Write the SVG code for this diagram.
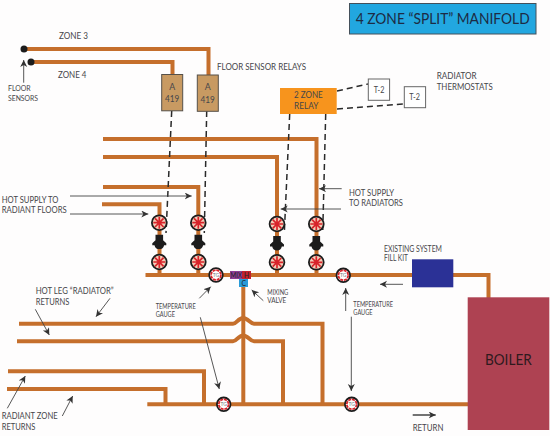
<svg xmlns="http://www.w3.org/2000/svg" width="550" height="436" viewBox="0 0 550 436">
<style>
text{font-family:Lato,"Liberation Sans",sans-serif;fill:#46464a}
.l{font-size:8.8px}
.s{font-size:6.6px}
.f{font-size:7.6px}
.p{fill:none;stroke:#c56f2c;stroke-width:4}
.d{fill:none;stroke:#2a2a2a;stroke-width:1.5;stroke-dasharray:6 4}
.a{fill:none;stroke:#444;stroke-width:.9;marker-end:url(#ah)}
.rel{fill:#c89a62;stroke:#55504a;stroke-width:1}
.th{fill:#fff;stroke:#666;stroke-width:1}
</style>
<defs>
<marker id="ah" markerWidth="8" markerHeight="8" refX="7" refY="3.500" orient="auto" markerUnits="userSpaceOnUse"><path d="M0 0L7 3.500L0 7L2 3.500Z" fill="#333"/></marker>
<g id="valve"><circle r="7.400" fill="#f4cdb8" stroke="#1c1c1c" stroke-width="1.800"/><path d="M-6 0H6M0-6V6M-4.300-4.300L4.300 4.300M-4.300 4.300L4.300-4.300" stroke="#d8232a" stroke-width="1.700"/></g>
<g id="pump"><path d="M-3.800-7H3.800V-1.500L7 1.500V3.500L4.800 3.500A4.900 4.900 0 0 1-4.800 3.500L-7 3.500V1.500L-3.800-1.500Z" fill="#1c1c1c"/></g>
<g id="tg"><circle r="6.800" fill="#fff" stroke="#1c1c1c" stroke-width="1.800"/><circle r="4.900" fill="#fff" stroke="#d8232a" stroke-width="1.800" stroke-dasharray="3 .8"/><text y="1.800" text-anchor="middle" style="font-size:5px;fill:#777">TG</text></g>
</defs>
<rect width="550" height="436" fill="#fefdfd"/>
<g id="connectors">
<path class="p" d="M24 49H208.500V75"/>
<path class="p" d="M31 62H172.500V75"/>
<path class="p" d="M103 139H316.500V275"/>
<path class="p" d="M103 157H277V275"/>
<path class="p" d="M103 187H198.300V275"/>
<path class="p" d="M102 204.300H159.500V275"/>
<path class="p" d="M145.500 275H412M453 275H488.500V298"/>
<path class="p" d="M243.300 287V404"/>
<path class="p" d="M19 323.700H233C237 323.700 238 318 243.300 318C248 318 250 323.700 254 323.700H322.500V404"/>
<path class="p" d="M17 341.300H233C237 341.300 238 335.500 243.300 335.500C248 335.500 250 341.300 254 341.300H283V404"/>
<path class="p" d="M8 371.300H204V404"/>
<path class="p" d="M7 389H165.500V404"/>
<path class="p" d="M147.300 404.300H468"/>
<path class="d" d="M171.700 111L166 233"/>
<path class="d" d="M206.700 111L204.300 233"/>
<path class="d" d="M289.700 114L284.300 233"/>
<path class="d" d="M325.700 114L322.700 233"/>
<path class="d" d="M337 91L368 84"/>
<path class="d" d="M337 109L404 104"/>
<path class="a" d="M23.700 82.700V60"/>
<path class="a" d="M70 196H191.700"/>
<path class="a" d="M70 214H148.300"/>
<path class="a" d="M341.700 188.700H319"/>
<path class="a" d="M341 209H280.700"/>
<path class="a" d="M403 284.300H380"/>
<path class="a" d="M35.300 309.300L49.300 335"/>
<path class="a" d="M110 298.300L96 316.700"/>
<path class="a" d="M7.300 408.300L25.300 376"/>
<path class="a" d="M62.300 416L72.700 396"/>
<path class="a" d="M199.300 298.300L210.700 286.700"/>
<path class="a" d="M263.300 300.700L251.700 290"/>
<path class="a" d="M200.300 317.300L219.300 389"/>
<path class="a" d="M345.700 311V288"/>
<path class="a" d="M351.300 316.700V391"/>
<path class="a" d="M412.700 415H435.700" style="stroke-width:1.500"/>
</g>
<g id="title"><rect x="349.500" y="3.500" width="186.500" height="30.500" fill="#22a7e0" stroke="#44505a"/><text x="355.700" y="24" textLength="174" lengthAdjust="spacingAndGlyphs" style="font-size:15.500px;fill:#1d2b44">4 ZONE “SPLIT” MANIFOLD</text></g>
<g id="floor-sensors"><circle cx="24" cy="49" r="3.500" fill="#1c1c1c"/><circle cx="31" cy="62" r="3.500" fill="#1c1c1c"/></g>
<g id="relay-a"><rect class="rel" x="161.700" y="74.500" width="21" height="36.300"/><text x="172.200" y="90" text-anchor="middle" class="l">A</text><text x="165" y="102" textLength="14.300" lengthAdjust="spacingAndGlyphs" class="l">419</text></g>
<g id="relay-b"><rect class="rel" x="197.300" y="75" width="21" height="36.300"/><text x="207.800" y="90" text-anchor="middle" class="l">A</text><text x="200.600" y="102.500" textLength="14.300" lengthAdjust="spacingAndGlyphs" class="l">419</text></g>
<g id="zone-relay"><rect x="280" y="88" width="56.700" height="26" fill="#f7941d"/><text x="294" y="98" textLength="28.700" lengthAdjust="spacingAndGlyphs" class="l">2 ZONE</text><text x="294" y="109" textLength="24.300" lengthAdjust="spacingAndGlyphs" class="l">RELAY</text></g>
<g id="t2-a"><rect class="th" x="368.300" y="79" width="21.300" height="21.300"/><text x="373.700" y="92.500" textLength="10.700" lengthAdjust="spacingAndGlyphs" class="l">T-2</text></g>
<g id="t2-b"><rect class="th" x="404.300" y="86.700" width="21.300" height="21"/><text x="409.300" y="99.500" textLength="10.700" lengthAdjust="spacingAndGlyphs" class="l">T-2</text></g>
<g id="v1"><use href="#valve" x="159.300" y="222.700"/><use href="#pump" x="159.300" y="241.700"/><use href="#valve" x="159.300" y="262"/></g>
<g id="v2"><use href="#valve" x="198.300" y="222.700"/><use href="#pump" x="198.300" y="241.700"/><use href="#valve" x="198.300" y="262"/></g>
<g id="v3"><use href="#valve" x="277" y="224"/><use href="#pump" x="277" y="243"/><use href="#valve" x="277" y="262.300"/></g>
<g id="v4"><use href="#valve" x="316.300" y="224"/><use href="#pump" x="316.300" y="243"/><use href="#valve" x="316.300" y="262.300"/></g>
<g id="tg1"><use href="#tg" x="216" y="275"/></g>
<g id="tg2"><use href="#tg" x="343.300" y="275.300"/></g>
<g id="tg3"><use href="#tg" x="223.700" y="404.300"/></g>
<g id="tg4"><use href="#tg" x="351.700" y="404.300"/></g>
<g id="mix-valve"><rect x="230" y="271" width="12" height="8" fill="#8e3f94"/><rect x="242" y="271" width="9" height="8" fill="#c4202f"/><rect x="239" y="279" width="9" height="8" fill="#2a9bd8"/><text x="230.500" y="278" textLength="11.500" lengthAdjust="spacingAndGlyphs" style="font-size:6.800px;fill:#222">MIX</text><text x="244" y="278" style="font-size:6.800px;fill:#222">H</text><text x="241.500" y="286" style="font-size:6.800px;fill:#222">C</text></g>
<g id="fill-kit"><rect x="412" y="259.300" width="41.300" height="28" fill="#2b3196"/></g>
<g id="boiler"><rect x="467.700" y="297.300" width="81.600" height="132.700" fill="#ae4252"/><text x="485" y="365" textLength="46.700" lengthAdjust="spacingAndGlyphs" style="font-size:15.500px;fill:#2e1a1e">BOILER</text></g>
<g id="labels">
<text class="l" x="59" y="38.700" textLength="29" lengthAdjust="spacingAndGlyphs">ZONE 3</text>
<text class="l" x="58" y="78" textLength="28.500" lengthAdjust="spacingAndGlyphs">ZONE 4</text>
<text class="f" x="8" y="91.300" textLength="22.700" lengthAdjust="spacingAndGlyphs">FLOOR</text>
<text class="f" x="8" y="100.700" textLength="30" lengthAdjust="spacingAndGlyphs">SENSORS</text>
<text class="l" x="217" y="70" textLength="89" lengthAdjust="spacingAndGlyphs">FLOOR SENSOR RELAYS</text>
<text class="l" x="436.700" y="79" textLength="40" lengthAdjust="spacingAndGlyphs">RADIATOR</text>
<text class="l" x="436.700" y="89.700" textLength="56" lengthAdjust="spacingAndGlyphs">THERMOSTATS</text>
<text class="l" x="1.700" y="202.700" textLength="56.700" lengthAdjust="spacingAndGlyphs">HOT SUPPLY TO</text>
<text class="l" x="1.700" y="213.300" textLength="65" lengthAdjust="spacingAndGlyphs">RADIANT FLOORS</text>
<text class="l" x="349" y="195.700" textLength="45" lengthAdjust="spacingAndGlyphs">HOT SUPPLY</text>
<text class="l" x="349" y="206" textLength="54" lengthAdjust="spacingAndGlyphs">TO RADIATORS</text>
<text class="l" x="384" y="251.700" textLength="58" lengthAdjust="spacingAndGlyphs">EXISTING SYSTEM</text>
<text class="l" x="384" y="261" textLength="24" lengthAdjust="spacingAndGlyphs">FILL KIT</text>
<text class="l" x="35.700" y="294" textLength="78" lengthAdjust="spacingAndGlyphs">HOT LEG “RADIATOR”</text>
<text class="l" x="35.700" y="304.700" textLength="33.700" lengthAdjust="spacingAndGlyphs">RETURNS</text>
<text class="s" x="155.700" y="309" textLength="40" lengthAdjust="spacingAndGlyphs">TEMPERATURE</text>
<text class="s" x="155.700" y="316.700" textLength="19.300" lengthAdjust="spacingAndGlyphs">GAUGE</text>
<text class="s" x="267.300" y="295" textLength="21" lengthAdjust="spacingAndGlyphs">MIXING</text>
<text class="s" x="267.300" y="302.700" textLength="19" lengthAdjust="spacingAndGlyphs">VALVE</text>
<text class="s" x="353.300" y="306.700" textLength="39.700" lengthAdjust="spacingAndGlyphs">TEMPERATURE</text>
<text class="s" x="353.300" y="314.700" textLength="19.300" lengthAdjust="spacingAndGlyphs">GAUGE</text>
<text class="l" x="1.700" y="419.300" textLength="56" lengthAdjust="spacingAndGlyphs">RADIANT ZONE</text>
<text class="l" x="1.700" y="430" textLength="33.700" lengthAdjust="spacingAndGlyphs">RETURNS</text>
<text class="l" x="412.700" y="430.700" textLength="30.700" lengthAdjust="spacingAndGlyphs">RETURN</text>
</g>
</svg>
